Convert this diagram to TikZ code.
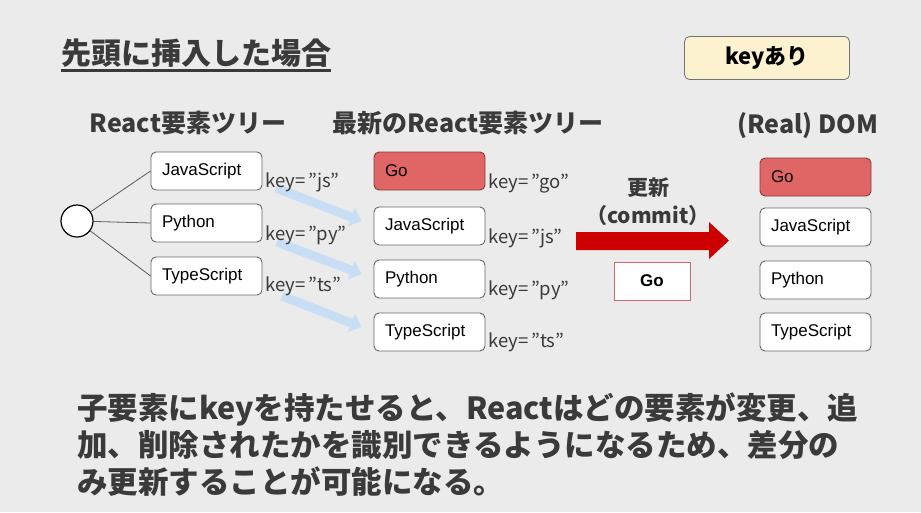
\documentclass[tikz,border=0pt]{standalone}
\usepackage{fontspec}
\setmainfont{Liberation Sans}
\newfontfamily\jp{Noto Sans CJK JP}
\usepackage{xcolor}
\usepackage{tikz}
\usetikzlibrary{arrows.meta, positioning, backgrounds}

\definecolor{bgcol}{RGB}{235,235,235}
\definecolor{txtcol}{RGB}{58,58,58}
\definecolor{gocol}{RGB}{224,102,102}
\definecolor{keycol}{RGB}{253,242,208}
\definecolor{commitred}{RGB}{204,0,0}
\definecolor{moveblue}{RGB}{200,222,244}

\begin{document}
\begin{tikzpicture}[x=1pt, y=-1pt,
    elbox/.style={rectangle, rounded corners=5pt, draw=black!60, fill=white, line width=0.9pt, minimum width=111pt, minimum height=38pt, text width=89pt, align=left, inner sep=0pt, font=\fontsize{17}{20}\selectfont},
    gobox/.style={elbox, fill=gocol, draw=gocol!60!black},
    keylbl/.style={anchor=west, inner sep=0pt, text=txtcol, font=\jp\fontsize{18.5}{22}\selectfont},
    heading/.style={inner sep=0pt, text=txtcol, font=\jp\bfseries\fontsize{25}{30}\selectfont},
    moved/.style={moveblue, line width=9pt, -{Triangle[width=19pt,length=11pt]}}]
    % Page and background
    \useasboundingbox (0,0) rectangle (921,512);
    \begin{scope}[on background layer]
        \fill[bgcol] (0,0) rectangle (921,512);
    \end{scope}

    % Title
    \node[heading, font=\jp\bfseries\fontsize{30}{34}\selectfont] (ttl) at (196,53) {先頭に挿入した場合};
    \draw[txtcol, line width=2.5pt] ([yshift=-3pt]ttl.south west) -- ([yshift=-3pt]ttl.south east);
    \node[rectangle, rounded corners=5pt, draw=black!55, fill=keycol, line width=0.8pt, minimum width=165pt, minimum height=43pt, font=\jp\bfseries\fontsize{22}{26}\selectfont] (keyon) at (767,58) {keyあり};

    % Column headings
    \node[heading] (hOld) at (188,123) {React要素ツリー};
    \node[heading] (hNew) at (468,123) {最新のReact要素ツリー};
    \node[heading] (hDom) at (808,126) {(Real) DOM};

    % Old tree
    \node[circle, draw=black, fill=white, line width=1.2pt, minimum size=32pt, inner sep=0pt] (root) at (77,221) {};
    \node[elbox] (oJS) at (206.5,171) {JavaScript};
    \node[elbox] (oPy) at (206.5,223) {Python};
    \node[elbox] (oTs) at (206.5,276) {TypeScript};
    \draw[black!65, line width=0.8pt] (root) -- (oJS.west);
    \draw[black!65, line width=0.8pt] (root) -- (oPy.west);
    \draw[black!65, line width=0.8pt] (root) -- (oTs.west);
    \node[keylbl] (kOJS) at (265,182) {key=\,”js”};
    \node[keylbl] (kOPy) at (265,235) {key=\,”py”};
    \node[keylbl] (kOTs) at (265,286) {key=\,”ts”};

    % New tree
    \node[gobox] (nGo) at (429.5,171) {Go};
    \node[elbox] (nJS) at (429.5,226) {JavaScript};
    \node[elbox] (nPy) at (429.5,279) {Python};
    \node[elbox] (nTs) at (429.5,332) {TypeScript};
    \node[keylbl] (kNGo) at (488,183) {key=\,”go”};
    \node[keylbl] (kNJS) at (488,238) {key=\,”js”};
    \node[keylbl] (kNPy) at (488,290) {key=\,”py”};
    \node[keylbl] (kNTs) at (488,342) {key=\,”ts”};

    % Matching by key
    \begin{scope}[on background layer]
        \draw[moved] ([xshift=11pt,yshift=-6pt]kOJS.west) -- ([xshift=-12pt,yshift=5pt]nJS.west);
        \draw[moved] ([xshift=12pt,yshift=-7pt]kOPy.west) -- ([xshift=-12pt,yshift=5pt]nPy.west);
        \draw[moved] ([xshift=17pt,yshift=-10pt]kOTs.west) -- ([xshift=-12pt,yshift=5pt]nTs.west);
    \end{scope}

    % Commit
    \node[heading, font=\jp\bfseries\fontsize{21}{25}\selectfont] (upd) at (648,188) {更新};
    \node[heading, font=\jp\bfseries\fontsize{21}{25}\selectfont] (cmt) at (648,216) {（commit）};
    \fill[commitred] (576,232) -- (709,232) -- (709,222) -- (729,240.5) -- (709,259) -- (709,250) -- (576,250) -- cycle;
    \node[rectangle, draw={rgb,255:red,200;green,105;blue,105}, fill=white, line width=0.8pt, minimum width=76pt, minimum height=38pt, font=\bfseries\fontsize{17}{20}\selectfont] (cGo) at (652,281) {Go};

    % Real DOM
    \node[gobox] (dGo) at (815.5,177) {Go};
    \node[elbox] (dJS) at (815.5,227) {JavaScript};
    \node[elbox] (dPy) at (815.5,280) {Python};
    \node[elbox] (dTs) at (815.5,332) {TypeScript};

    % Note
    \node[anchor=north west, align=left, inner sep=0pt, text=txtcol, font=\jp\bfseries\fontsize{30.5}{37}\selectfont] (note) at (77,393) {子要素にkeyを持たせると、Reactはどの要素が変更、追\\加、削除されたかを識別できるようになるため、差分の\\み更新することが可能になる。};
\end{tikzpicture}
\end{document}
